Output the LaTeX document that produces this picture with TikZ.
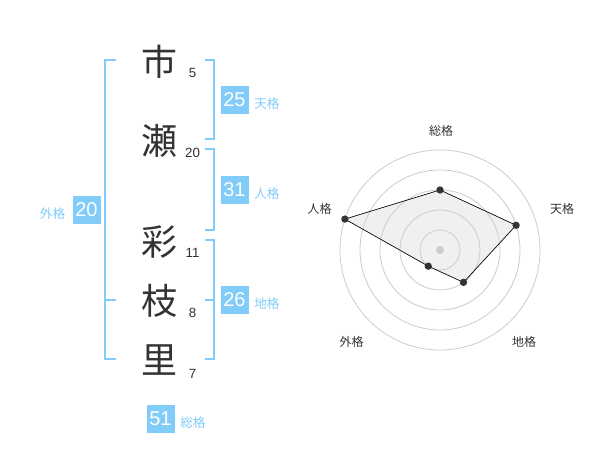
\documentclass[tikz,border=0pt]{standalone}
\usepackage{fontspec}
\setmainfont{Liberation Sans}
\newfontfamily\jp{Noto Sans CJK JP}

\definecolor{kaku}{RGB}{130,204,250}
\definecolor{moji}{RGB}{51,51,51}
\definecolor{ring}{RGB}{204,204,204}

\tikzset{
	kanji/.style={font=\jp\fontsize{27}{27}\selectfont, text=moji, inner sep=0},
	kakusu/.style={font=\fontsize{10}{10}\selectfont, text=moji, inner sep=0},
	kakubox/.style={fill=kaku, text=white, minimum size=21pt, inner sep=0, font=\fontsize{15}{15}\selectfont},
	kakuname/.style={font=\jp\fontsize{9.5}{9.5}\selectfont, text=kaku, inner sep=0},
	axisname/.style={font=\jp\fontsize{9}{9}\selectfont, text=moji, inner sep=0},
	bracket/.style={draw=kaku, line width=1.4pt},
	dot/.style={circle, fill=moji, inner sep=0, minimum size=5.5pt}
}

\begin{document}
\begin{tikzpicture}[x=0.75pt, y=-0.75pt]
	\useasboundingbox[fill=white] (0, 0) rectangle (600, 470);

	% name and strokes
	\node[kanji] (c1) at (159, 62) {市};
	\node[kanji] (c2) at (159, 141) {瀬};
	\node[kanji] (c3) at (159, 242) {彩};
	\node[kanji] (c4) at (159, 301) {枝};
	\node[kanji] (c5) at (159, 360) {里};
	\node[kakusu] (n1) at (192.5, 72.5) {5};
	\node[kakusu] (n2) at (192.5, 153) {20};
	\node[kakusu] (n3) at (192.5, 253) {11};
	\node[kakusu] (n4) at (192.5, 313) {8};
	\node[kakusu] (n5) at (192.5, 373.5) {7};

	% brackets
	\draw[bracket] (116, 60) -- (105, 60) -- (105, 359) -- (116, 359);
	\draw[bracket] (105, 300) -- (116, 300);
	\draw[bracket] (205, 60) -- (214, 60) -- (214, 139) -- (205, 139);
	\draw[bracket] (205, 149) -- (214, 149) -- (214, 230) -- (205, 230);
	\draw[bracket] (205, 240) -- (214, 240) -- (214, 359) -- (205, 359);
	\draw[bracket] (205, 300) -- (214, 300);

	% boxes
	\node[kakubox] (ten) at (234.5, 100) {25};
	\node[kakuname, anchor=west] (tenname) at (254, 104) {天格};
	\node[kakubox] (jin) at (234.5, 190) {31};
	\node[kakuname, anchor=west] (jinname) at (254, 194) {人格};
	\node[kakubox] (chi) at (234.5, 300) {26};
	\node[kakuname, anchor=west] (chiname) at (254, 304) {地格};
	\node[kakubox] (gai) at (86.5, 210) {20};
	\node[kakuname, anchor=east] (gainame) at (65.5, 213.5) {外格};
	\node[kakubox] (sou) at (160.5, 419) {51};
	\node[kakuname, anchor=west] (souname) at (180, 422.5) {総格};

	% radar
	\begin{scope}[shift={(440, 250)}, y=0.75pt]
		\coordinate (psou) at (90:60);
		\coordinate (pten) at (18:80);
		\coordinate (pchi) at (-54:40);
		\coordinate (pgai) at (-126:20);
		\coordinate (pjin) at (162:100);
		\fill[black!6] (psou) -- (pten) -- (pchi) -- (pgai) -- (pjin) -- cycle;
		\foreach \r in {20, 40, 60, 80, 100}
			\draw[ring, line width=0.6pt] (0, 0) circle[radius=\r];
		\draw[line width=0.5pt] (psou) -- (pten) -- (pchi) -- (pgai) -- (pjin) -- cycle;
		\foreach \p in {psou, pten, pchi, pgai, pjin}
			\node[dot] at (\p) {};
		\node[circle, fill=ring, inner sep=0, minimum size=6pt] (o) at (0, 0) {};
	\end{scope}
	\node[axisname] (asou) at (441, 130.5) {総格};
	\node[axisname] (aten) at (562, 209) {天格};
	\node[axisname] (ajin) at (319.5, 209) {人格};
	\node[axisname] (agai) at (351.7, 342.3) {外格};
	\node[axisname] (achi) at (524.2, 342.3) {地格};
\end{tikzpicture}
\end{document}
